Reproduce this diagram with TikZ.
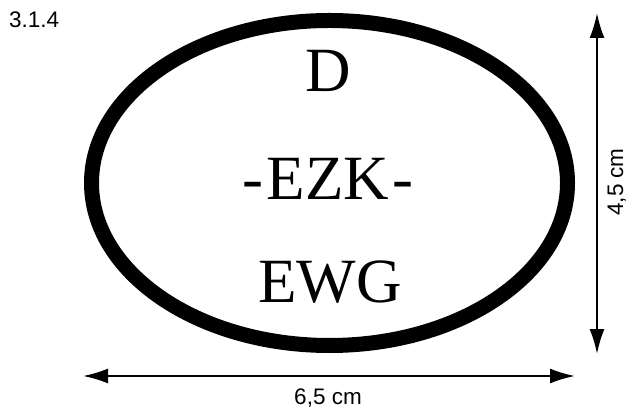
\documentclass[tikz,border=0pt]{standalone}
\usepackage{fontspec}
\setmainfont{Liberation Serif}
\newfontfamily\labelfont{Liberation Sans}
\usetikzlibrary{arrows.meta}
\tikzset{
  x=1pt, y=1pt,
  dimlabel/.style={font=\labelfont\fontsize{22.5}{22.5}\selectfont, inner sep=0pt, anchor=base},
  bigtext/.style={font=\fontsize{63}{63}\selectfont, inner sep=0pt, anchor=base},
  dimarrow/.style={line width=2pt, {Latex[length=25pt,width=15pt]}-{Latex[length=25pt,width=15pt]}},
  ring/.style={line width=15pt}
}
\begin{document}
\begin{tikzpicture}
\useasboundingbox (0,0) rectangle (628,412);
\draw[ring] (329.5,229) ellipse [x radius=238, y radius=162.5];
\node[dimlabel, anchor=base west] (num) at (9,384) {3.1.4};
\node[bigtext] (d) at (328,320) {D};
\node[bigtext] (ezk) at (328,212) {-\kern3pt EZK\kern3pt -};
\node[bigtext] (ewg) at (330,109) {EWG};
\coordinate (vtop) at (597,399);
\coordinate (vbot) at (597,58);
\coordinate (hleft) at (83,36);
\coordinate (hright) at (575,36);
\draw[dimarrow] (vtop) -- (vbot);
\draw[dimarrow] (hleft) -- (hright);
\node[dimlabel] (w) at (328,8) {6,5 cm};
\node[dimlabel, rotate=90] (h) at (623,230) {4,5 cm};
\end{tikzpicture}
\end{document}
